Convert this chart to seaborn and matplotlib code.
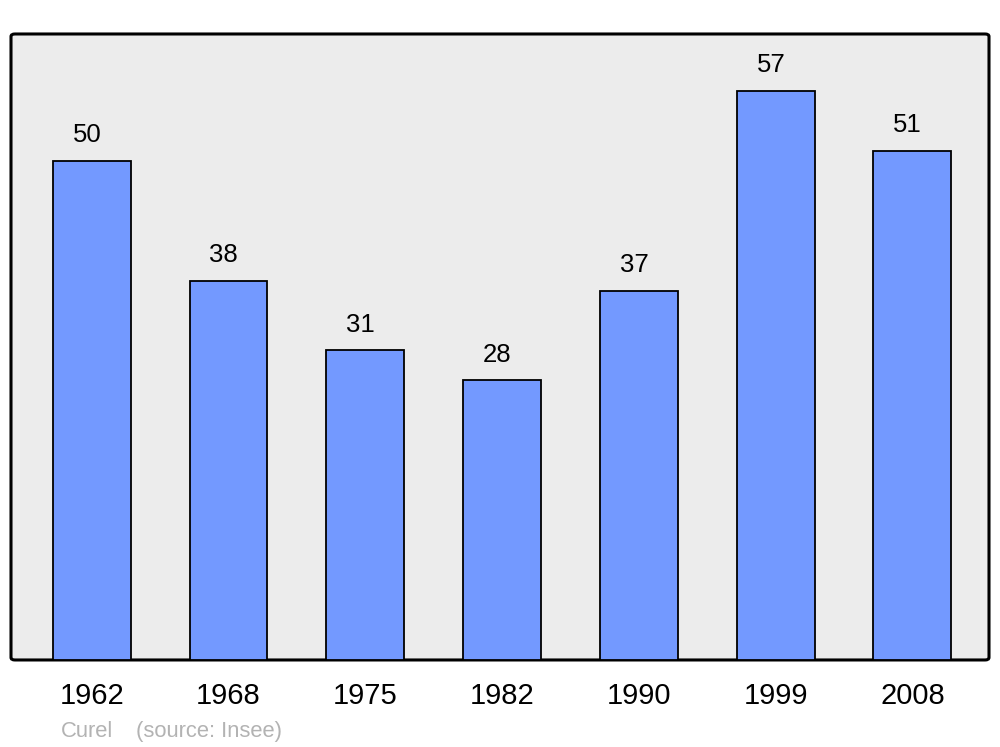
import pandas as pd
import matplotlib
matplotlib.use('Agg')
import matplotlib.pyplot as plt
from matplotlib.patches import FancyBboxPatch
import seaborn as sns

# données : population de Curel
annees = ['1962', '1968', '1975', '1982', '1990', '1999', '2008']
population = [50, 38, 31, 28, 37, 57, 51]

df = pd.DataFrame({'annee': annees, 'pop': population})

sns.set_style('white')
plt.rcParams['font.family'] = ['Liberation Sans', 'DejaVu Sans']

fig = plt.figure(figsize=(10, 7.47), dpi=100)
ax = fig.add_axes([0.011, 0.1165, 0.978, 0.838])
ax.set_facecolor('none')

# fond gris arrondi
fond = FancyBboxPatch((0, 0), 1, 1, boxstyle='round,pad=0,rounding_size=0.004',
                      transform=ax.transAxes, facecolor='#ececec', edgecolor='black',
                      linewidth=2.2, zorder=0, clip_on=False)
ax.add_patch(fond)

sns.barplot(data=df, x='annee', y='pop', color='#7399ff', saturation=1,
            width=0.57, edgecolor='black', linewidth=1.3, ax=ax, zorder=2)

for i, v in enumerate(population):
    ax.text(i - 0.035, v + 2.55, str(v), ha='center', va='center',
            fontsize=18.5, color='black')

ax.set_xlim(-0.59, 6.56)
ax.set_ylim(0, 62.7)
for s in ax.spines.values():
    s.set_visible(False)
ax.set_yticks([])
ax.set_xlabel('')
ax.set_ylabel('')
ax.tick_params(axis='x', length=0, pad=16, labelsize=21, labelcolor='black')

fig.text(0.061, 0.013, 'Curel', color='#b3b3b3', fontsize=15.8, va='baseline')
fig.text(0.136, 0.013, '(source: Insee)', color='#b3b3b3', fontsize=15.8, va='baseline')

plt.savefig('out.png', dpi=100)
